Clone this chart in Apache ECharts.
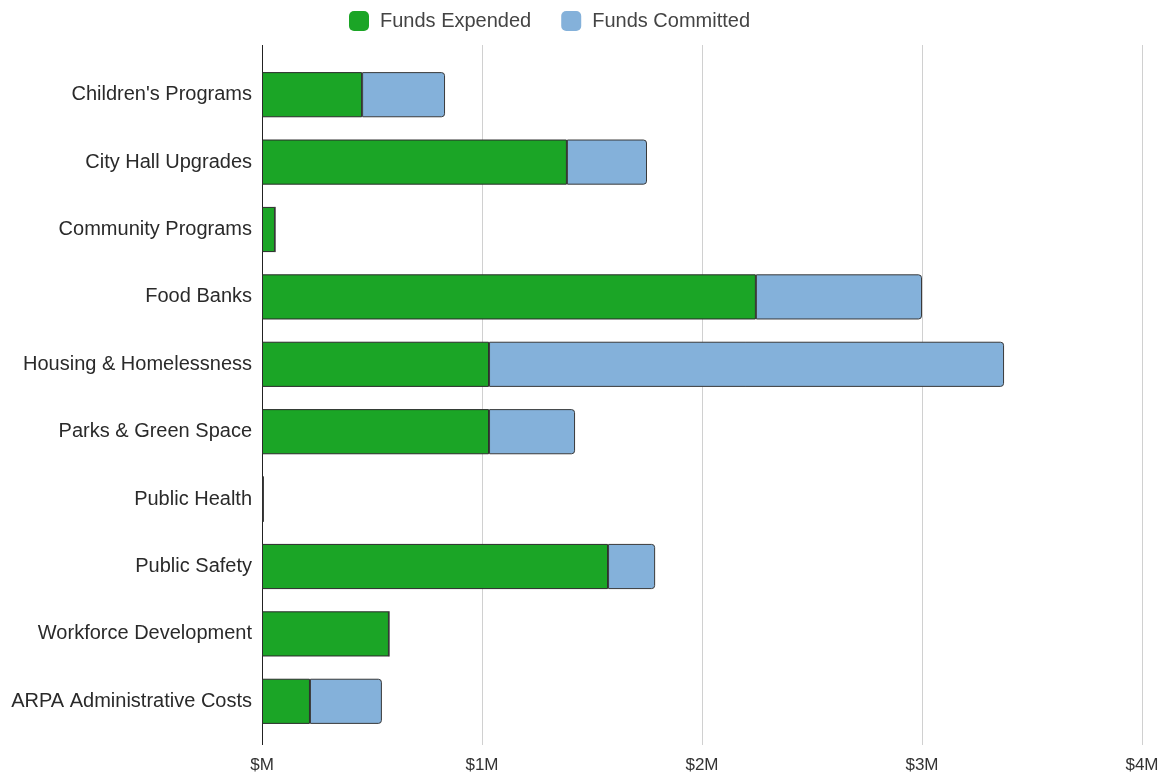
<!DOCTYPE html>
<html><head><meta charset="utf-8">
<script src="https://cdn.jsdelivr.net/npm/echarts@6/dist/echarts.min.js"></script>
<style>html,body{margin:0;padding:0;background:#fff}#c{width:1165px;height:780px}</style>
</head><body><div id="c"></div>
<script>
const categories = ["Children's Programs","City Hall Upgrades","Community Programs","Food Banks","Housing & Homelessness","Parks & Green Space","Public Health","Public Safety","Workforce Development","ARPA Administrative Costs"];
const fundsExpended = [0.455, 1.386, 0.059, 2.245, 1.032, 1.032, 0.006, 1.573, 0.577, 0.218];
const fundsCommitted = [0.377, 0.364, 0, 0.755, 2.341, 0.391, 0, 0.214, 0, 0.327];
const xTicks = [0, 1, 2, 3, 4];

const chart = echarts.init(document.getElementById('c'));
chart.setOption({
  animation: false,
  textStyle: {fontFamily: 'Liberation Sans, Arial, sans-serif'},
  legend: {
    top: 6, left: 344, itemWidth: 20, itemHeight: 20, itemGap: 30,
    icon: 'roundRect',
    itemStyle: {borderWidth: 0},
    textStyle: {fontSize: 20, color: '#444', padding: [0, 0, 0, 6]},
    data: ['Funds Expended', 'Funds Committed']
  },
  grid: [
    {left: 262, right: 23, top: 61, bottom: 45},
    {left: 262, right: 23, top: 45, bottom: 35}
  ],
  xAxis: [
    {gridIndex: 0, type: 'value', min: xTicks[0], max: xTicks[xTicks.length-1], interval: 1, show: false},
    {gridIndex: 1, type: 'value', min: xTicks[0], max: xTicks[xTicks.length-1], interval: 1,
     axisLine: {show: false}, axisTick: {show: false},
     splitLine: {show: true, lineStyle: {color: ['#222', '#d0d0d0', '#d0d0d0', '#d0d0d0', '#d0d0d0'], width: 1}},
     axisLabel: {fontSize: 17, color: '#333', margin: 12, formatter: v => v === 0 ? '$M' : '$' + v + 'M'}}
  ],
  yAxis: [
    {gridIndex: 0, type: 'category', data: categories, inverse: true,
     axisLine: {show: false}, axisTick: {show: false},
     axisLabel: {fontSize: 20, color: '#2a2a2a', margin: 10}},
    {gridIndex: 1, type: 'value', show: false}
  ],
  series: [
    {name: 'Funds Expended', type: 'bar', stack: 'a', xAxisIndex: 0, yAxisIndex: 0,
     barWidth: '67%', data: fundsExpended,
     itemStyle: {color: '#1ba526', borderColor: '#2b2b2b', borderWidth: 1}},
    {name: 'Funds Committed', type: 'bar', stack: 'a', xAxisIndex: 0, yAxisIndex: 0,
     barWidth: '67%', data: fundsCommitted,
     itemStyle: {color: '#84b1da', borderColor: '#3a3a3a', borderWidth: 1, borderRadius: [0, 3, 3, 0]}}
  ]
});
</script></body></html>
